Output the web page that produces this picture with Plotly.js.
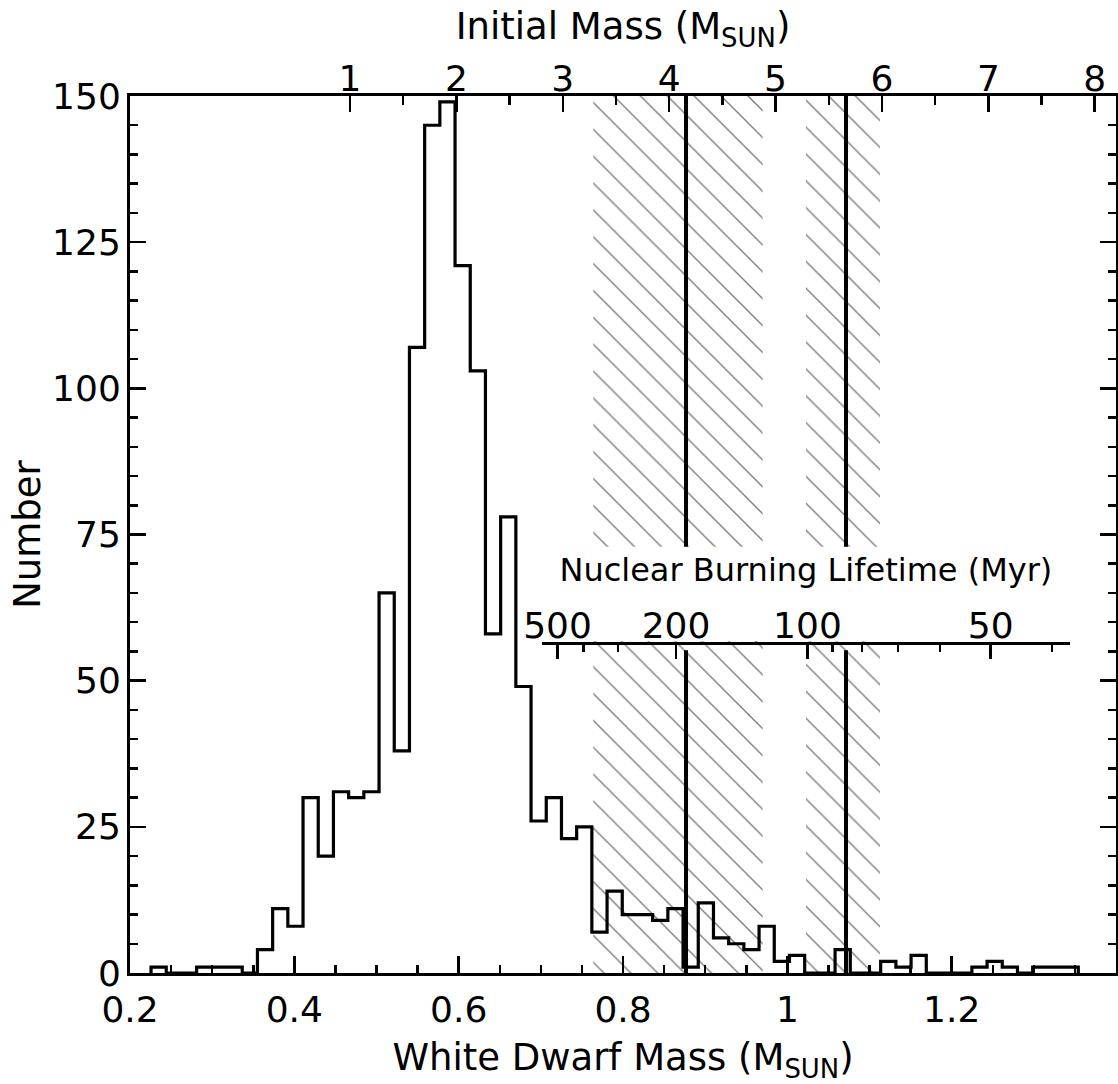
<!DOCTYPE html>
<html><head><meta charset="utf-8">
<script src="https://cdn.plot.ly/plotly-3.0.1.min.js"></script>
<style>html,body{margin:0;padding:0;background:#fff}#chart{width:1118px;height:1084px}</style>
</head><body><div id="chart"></div>
<script>
// Histogram of white dwarf masses: first bin edge, bin width, counts per bin
const binStart = 0.2256;
const binWidth = 0.0185;
const counts = [1,0,0,1,1,1,0,4,11,8,30,20,31,30,31,65,38,107,145,149,121,103,58,78,49,26,30,23,25,7,14,10,10,9,11,1,12,6,5,4,8,2,3,0,0,4,0,0,2,1,3,0,0,0,1,2,1,0,1,1,1];

// Hatched bands and marker lines (in white dwarf mass)
const bandLo = [0.7638, 1.0227];
const bandHi = [0.9700, 1.1128];
const lineAt = [0.8767, 1.0714];
const hatchGap = [56.8, 72.9];   // counts left blank behind the inset axis
const lineGap = [55.2, 72.9];

// Axes
const yMax = 150;
const xRange = [0.2, 1.4];
const xTickVals = [0.2, 0.4, 0.6, 0.8, 1.0, 1.2];
const xTickText = ['0.2', '0.4', '0.6', '0.8', '1', '1.2'];
const initRange = [-1.068, 8.2];
const initTicks = [1, 2, 3, 4, 5, 6, 7, 8];
const initMinor = [1.5, 2.5, 3.5, 4.5, 5.5, 6.5, 7.5];
const lifeLabels = ['500', '200', '100', '50'];
const lifeAt = [0.7203, 0.8645, 1.0245, 1.2475];          // white dwarf mass of each lifetime tick
const lifeMinorAt = [0.7520, 0.7941, 1.0549, 1.0908, 1.1346, 1.1858, 1.3221];
const insetDomain = [0.418, 0.953];
const insetPosition = 0.3763;

const FONT = 'DejaVu Sans, Verdana, sans-serif';
const traces = [];

// hatched bands, split around the inset axis
for (let i = 0; i < bandLo.length; i++) {
  const a = bandLo[i], b = bandHi[i];
  [[0, hatchGap[0]], [hatchGap[1], yMax]].forEach(p => {
    traces.push({
      type: 'scatter', mode: 'lines',
      x: [a, b, b, a, a], y: [p[0], p[0], p[1], p[1], p[0]],
      fill: 'toself', fillcolor: 'rgba(0,0,0,0)',
      fillpattern: {shape: '\\', size: 19, solidity: 0.07, fgcolor: '#777777', bgcolor: 'rgba(0,0,0,0)'},
      line: {width: 0, color: 'rgba(0,0,0,0)'},
      hoverinfo: 'skip', showlegend: false
    });
  });
}

// step histogram
const hx = [binStart], hy = [0];
for (let k = 0; k < counts.length; k++) { hx.push(binStart + k * binWidth); hy.push(counts[k]); }
hx.push(binStart + counts.length * binWidth); hy.push(0);
traces.push({type: 'scatter', mode: 'lines', x: hx, y: hy,
  line: {shape: 'hv', color: 'black', width: 3.2}, showlegend: false});

// vertical marker lines
lineAt.forEach(v => {
  traces.push({type: 'scatter', mode: 'lines', x: [v, v, null, v, v], y: [0, lineGap[0], null, lineGap[1], yMax],
    line: {color: 'black', width: 4}, connectgaps: false, hoverinfo: 'skip', showlegend: false});
});

// carriers for the secondary axes
traces.push({type: 'scatter', mode: 'markers', x: [null], y: [null], xaxis: 'x2', yaxis: 'y', hoverinfo: 'skip', showlegend: false});
traces.push({type: 'scatter', mode: 'markers', x: [null], y: [null], xaxis: 'x3', yaxis: 'y', hoverinfo: 'skip', showlegend: false});

const span = xRange[1] - xRange[0];
const insetRange = [xRange[0] + insetDomain[0] * span, xRange[0] + insetDomain[1] * span];
const axBase = {showline: true, linecolor: 'black', linewidth: 3, ticks: 'inside', tickcolor: 'black', tickwidth: 2.5,
  showgrid: false, zeroline: false, tickfont: {family: FONT, size: 36, color: 'black'}};
const minorBase = {ticks: 'inside', tickwidth: 2.5, tickcolor: 'black'};

const layout = {
  width: 1118, height: 1084, margin: {l: 130, r: 2, t: 96, b: 111},
  paper_bgcolor: 'white', plot_bgcolor: 'rgba(0,0,0,0)', font: {family: FONT, color: 'black'}, showlegend: false,
  xaxis: Object.assign({}, axBase, {range: xRange, tickmode: 'array', tickvals: xTickVals, ticktext: xTickText, ticklen: 17,
    minor: Object.assign({dtick: 0.05, tick0: 0.2, ticklen: 8}, minorBase),
    ticklabelstandoff: 3,
    title: {text: 'White Dwarf Mass (M<sub>SUN</sub>)', font: {family: FONT, size: 37}, standoff: 22}}),
  yaxis: Object.assign({}, axBase, {range: [0, yMax], tickmode: 'linear', tick0: 0, dtick: 25, ticklen: 16, mirror: 'ticks',
    minor: Object.assign({dtick: 5, tick0: 0, ticklen: 8}, minorBase),
    ticklabelstandoff: -1,
    title: {text: 'Number', font: {family: FONT, size: 37}, standoff: 1}}),
  xaxis2: Object.assign({}, axBase, {overlaying: 'x', side: 'top', anchor: 'y', range: initRange, tickmode: 'array', tickvals: initTicks, ticklen: 16,
    minor: Object.assign({tickmode: 'array', tickvals: initMinor, ticklen: 9}, minorBase),
    ticklabelstandoff: -12,
    title: {text: 'Initial Mass (M<sub>SUN</sub>)', font: {family: FONT, size: 37}, standoff: 7}}),
  xaxis3: Object.assign({}, axBase, {domain: insetDomain, anchor: 'free', position: insetPosition, side: 'top', range: insetRange,
    tickmode: 'array', tickvals: lifeAt, ticktext: lifeLabels, ticklen: 14,
    minor: Object.assign({tickmode: 'array', tickvals: lifeMinorAt, ticklen: 7}, minorBase),
    ticklabelstandoff: -10,
    title: {text: 'Nuclear Burning Lifetime (Myr)', font: {family: FONT, size: 32}, standoff: 12}})
};

Plotly.newPlot('chart', traces, layout, {displayModeBar: false, staticPlot: true});
</script>
</body></html>
